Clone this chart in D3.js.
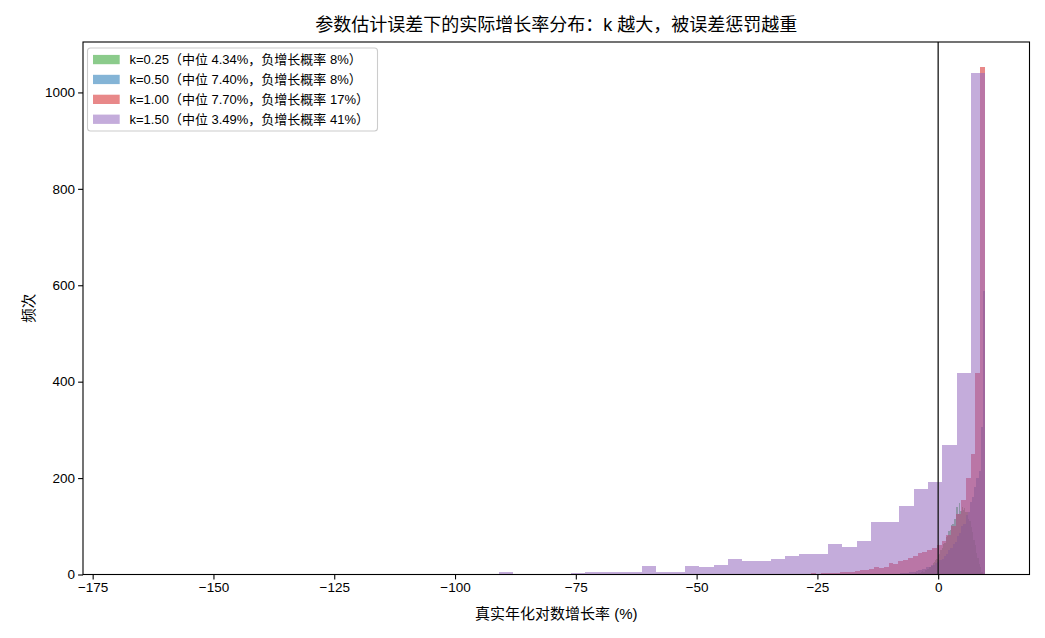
<!DOCTYPE html>
<html>
<head>
<meta charset="utf-8">
<script src="https://cdn.jsdelivr.net/npm/d3@7"></script>
<style>
  body { margin: 0; background: #fff; }
  svg { font-family: "Liberation Sans", "Noto Sans CJK SC", sans-serif; }
</style>
</head>
<body>
<div id="chart"></div>
<script>
// histogram data: 60 bins per series, counts
var seriesNames = ["k=0.25（中位 4.34%，负增长概率 8%）",
                   "k=0.50（中位 7.40%，负增长概率 8%）",
                   "k=1.00（中位 7.70%，负增长概率 17%）",
                   "k=1.50（中位 3.49%，负增长概率 41%）"];
var seriesColors = ["#2ca02c", "#1f77b4", "#d62728", "#9467bd"];
var binLo = [-6.9, -17.28, -50.28, -167.78];
var binHi = [9.47, 9.72, 9.72, 9.72];

var countsK025 = [1,0,1,0,1,2,1,2,3,2,4,3,5,7,6,9,10,11,15,16,18,23,25,31,33,40,43,51,55,64,
                  66,77,79,90,92,103,104,115,116,140,125,148,131,140,133,138,129,130,116,112,98,89,71,62,44,35,22,15,5,2];
var countsK050 = [1,0,0,0,0,1,0,0,1,0,1,1,0,1,1,1,1,1,2,2,2,3,3,4,4,5,5,6,7,9,
                  9,11,12,15,15,19,20,24,26,31,33,39,43,50,55,64,68,80,86,100,105,124,130,150,160,182,200,215,305,588];
var countsK100 = [1,0,0,0,0,0,0,0,1,0,0,1,0,1,1,0,1,1,1,1,2,1,2,2,3,2,3,3,4,4,
                  5,5,6,7,9,9,12,15,14,15,24,22,27,31,34,38,44,46,50,55,62,70,82,100,125,155,200,250,418,1052];
var countsK150 = [1,0,0,0,0,0,0,0,0,0,1,1,0,0,0,0,0,1,0,1,1,1,0,0,0,2,5,2,0,0,
                  0,3,5,5,5,5,17,6,6,17,15,19,33,29,27,33,39,43,43,64,58,70,108,108,143,178,191,269,418,1040];
var allCounts = [countsK025, countsK050, countsK100, countsK150];

var xTicks = [-175, -150, -125, -100, -75, -50, -25, 0];
var yTicks = [0, 200, 400, 600, 800, 1000];

var titleText = "参数估计误差下的实际增长率分布：k 越大，被误差惩罚越重";
var xLabel = "真实年化对数增长率 (%)";
var yLabel = "频次";

var W = 1045, H = 638;
var plot = { left: 83, top: 42, right: 1029.5, bottom: 574.5 };

var svg = d3.select("#chart").append("svg")
    .attr("width", W).attr("height", H);

var x = d3.scaleLinear().domain([-177, 18.9]).range([plot.left, plot.right]);
var y = d3.scaleLinear().domain([0, 1104.6]).range([plot.bottom, plot.top]);

// bars
allCounts.forEach(function(counts, s) {
    var edge = d3.scaleLinear().domain([0, counts.length]).range([binLo[s], binHi[s]]);
    svg.append("g")
        .attr("fill", seriesColors[s])
        .attr("fill-opacity", 0.55)
        .attr("shape-rendering", "crispEdges")
      .selectAll("rect")
      .data(counts)
      .enter().append("rect")
        .attr("x", function(d, i) { return x(edge(i)); })
        .attr("width", function(d, i) { return x(edge(i + 1)) - x(edge(i)); })
        .attr("y", function(d) { return y(d); })
        .attr("height", function(d) { return y(0) - y(d); });
});

// zero line
svg.append("line")
    .attr("x1", x(0)).attr("x2", x(0))
    .attr("y1", plot.top).attr("y2", plot.bottom)
    .attr("stroke", "#111").attr("stroke-opacity", 0.85).attr("stroke-width", 1.5);

// axes
var xAxis = d3.axisBottom(x).tickValues(xTicks).tickSize(4.9).tickPadding(3)
    .tickFormat(function(d) { return d < 0 ? "\u2212" + Math.abs(d) : d; });
var yAxis = d3.axisLeft(y).tickValues(yTicks).tickSize(4.9).tickPadding(3)
    .tickFormat(d3.format("d"));

var gx = svg.append("g").attr("transform", "translate(0," + plot.bottom + ")").call(xAxis);
var gy = svg.append("g").attr("transform", "translate(" + plot.left + ",0)").call(yAxis);
[gx, gy].forEach(function(g) {
    g.select(".domain").remove();
    g.selectAll(".tick line").attr("stroke", "#000").attr("stroke-width", 1.1);
    g.selectAll(".tick text").attr("fill", "#000").style("font-size", "13.5px");
});

// frame
svg.append("rect")
    .attr("x", plot.left).attr("y", plot.top)
    .attr("width", plot.right - plot.left).attr("height", plot.bottom - plot.top)
    .attr("fill", "none").attr("stroke", "#000").attr("stroke-width", 1.1);

// labels
svg.append("text")
    .attr("x", (plot.left + plot.right) / 2).attr("y", 31)
    .attr("text-anchor", "middle").style("font-size", "18px")
    .text(titleText);
svg.append("text")
    .attr("x", (plot.left + plot.right) / 2).attr("y", 619)
    .attr("text-anchor", "middle").style("font-size", "15px")
    .text(xLabel);
svg.append("text")
    .attr("transform", "translate(34," + ((plot.top + plot.bottom) / 2) + ") rotate(-90)")
    .attr("text-anchor", "middle").style("font-size", "14.5px")
    .text(yLabel);

// legend
var legend = svg.append("g").attr("transform", "translate(87.5,48)");
legend.append("rect")
    .attr("width", 290).attr("height", 83).attr("rx", 3)
    .attr("fill", "#fff").attr("fill-opacity", 0.8)
    .attr("stroke", "#ccc").attr("stroke-width", 1.1);
var item = legend.selectAll(".item")
    .data(seriesNames)
    .enter().append("g")
    .attr("class", "item")
    .attr("transform", function(d, i) { return "translate(0," + (11.5 + i * 19.9) + ")"; });
item.append("rect")
    .attr("x", 5.5).attr("y", -4.6).attr("width", 26.7).attr("height", 9.3)
    .attr("fill", function(d, i) { return seriesColors[i]; })
    .attr("fill-opacity", 0.55);
item.append("text")
    .attr("x", 42).attr("dy", "0.36em")
    .style("font-size", "13px")
    .text(function(d) { return d; });
</script>
</body>
</html>
